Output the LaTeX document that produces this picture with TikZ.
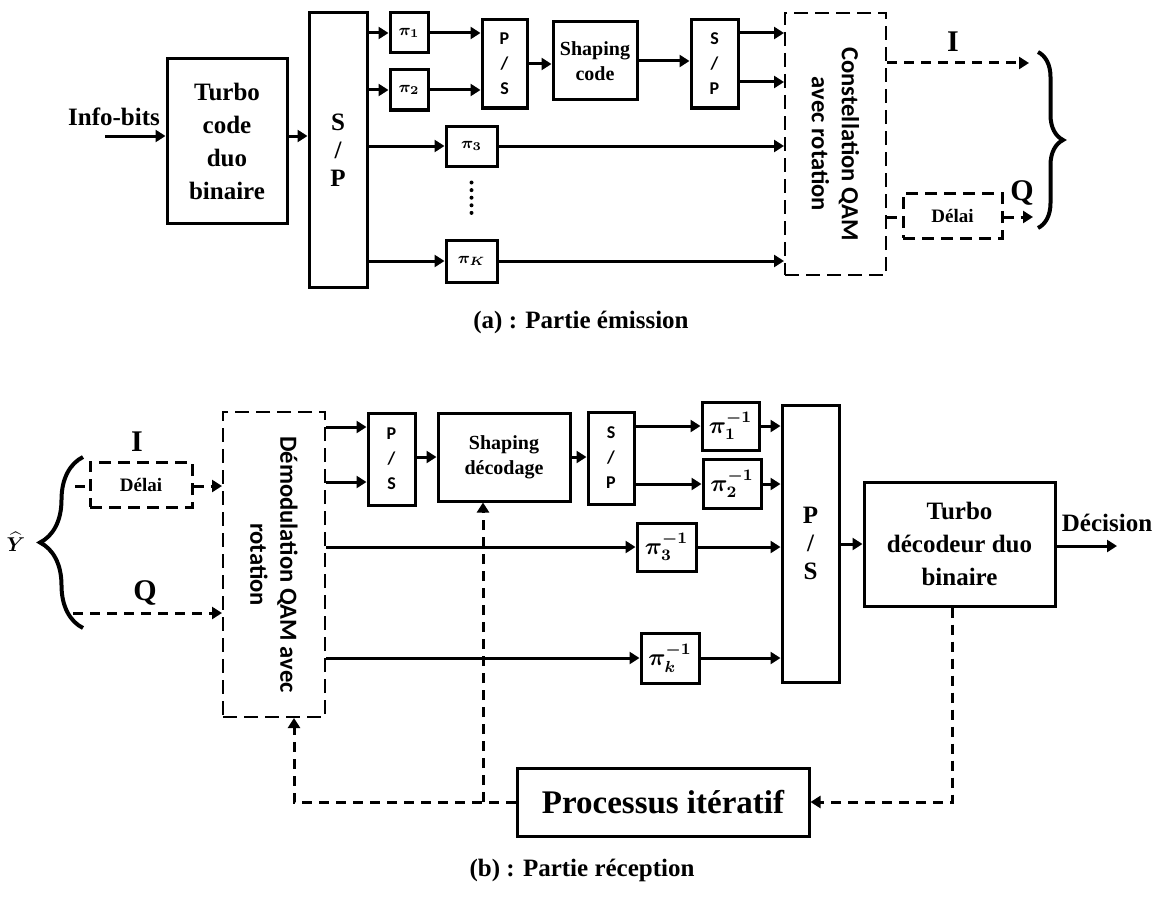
\documentclass[tikz,border=0pt]{standalone}
\usepackage{fontspec}
\setmainfont{Liberation Serif}
\setsansfont{Carlito}
\usepackage{amsmath}
\usetikzlibrary{arrows.meta,decorations.pathreplacing,calc}

\tikzset{
  blk/.style={draw,line width=1.5pt,inner sep=0pt,align=center},
  dblk/.style={draw,line width=1pt,dash pattern=on 7pt off 3.5pt,inner sep=0pt},
  dlbox/.style={draw,line width=1.5pt,dash pattern=on 6pt off 3.5pt,inner sep=0pt,
    font=\fontsize{9.5}{11}\selectfont\bfseries},
  lbl/.style={font=\fontsize{12.5}{16.5}\selectfont\bfseries,align=center},
  bigps/.style={font=\fontsize{12.5}{14}\selectfont\bfseries},
  small/.style={font=\sffamily\fontsize{9}{12.5}\selectfont\bfseries},
  shp/.style={font=\fontsize{10}{12.5}\selectfont\bfseries},
  iq/.style={font=\fontsize{15}{15}\selectfont\bfseries},
  vtxt/.style={font=\sffamily\fontsize{12.3}{15}\selectfont\bfseries,align=center,rotate=-90},
  piA/.style={blk,font=\fontsize{8}{10}\selectfont\boldmath},
  piB/.style={blk,font=\fontsize{12}{14}\selectfont\boldmath},
  conn/.style={line width=1.5pt,-{Triangle[length=5pt,width=6pt]}},
  dconn/.style={conn,dash pattern=on 5pt off 3.5pt},
}

\begin{document}
\begin{tikzpicture}[x=0.5pt,y=-0.5pt]
\useasboundingbox (0,0) rectangle (1160,899);

% (a) emission
\node[lbl] (info) at (114,117) {Info-bits};
\coordinate (inA) at (105,136);
\node[blk,lbl,minimum width=60pt,minimum height=82pt] (turbo) at (227,141) {Turbo\\code\\duo\\binaire};
\node[blk,bigps,minimum width=29pt,minimum height=137.5pt] (sp1) at (338,150) {S\\/\\P};
\node[piA,minimum width=19pt,minimum height=20pt] (pi1) at (409,33) {$\pi_1$};
\node[piA,minimum width=19pt,minimum height=20pt] (pi2) at (409,90) {$\pi_2$};
\node[piA,minimum width=25.5pt,minimum height=20pt] (pi3) at (471.5,146) {$\pi_3$};
\node[piA,minimum width=25.5pt,minimum height=21pt] (piK) at (471.5,261) {$\pi_K$};
\node[blk,small,minimum width=22.5pt,minimum height=44pt] (ps1) at (504.5,64) {P\\/\\S};
\node[blk,shp,minimum width=42pt,minimum height=39pt] (shA) at (595,61) {Shaping\\code};
\node[blk,small,minimum width=23.5pt,minimum height=44pt] (sp2) at (714.5,64) {S\\/\\P};
\node[dblk,minimum width=50.5pt,minimum height=131pt] (cst) at (835.5,144) {};
\node[vtxt] (cstT) at (cst) {Constellation QAM\\avec rotation};
\node[dlbox,minimum width=49.5pt,minimum height=22.5pt] (dlA) at (952.5,215.5) {Délai};
\node[iq] (Ia) at (953,42) {I};
\node[iq] (Qa) at (1022,193) {Q};
\coordinate (oI) at (1029,63);
\coordinate (oQ) at (1033,217);
\coordinate (bA1) at (1038,52);
\coordinate (bA2) at (1038,228);
\coordinate (c2) at ($(sp2.east)+(0,18)$);
\node[lbl] (capA) at (581,322) {(a) : Partie émission};

\draw[conn] (inA) -- (inA -| turbo.west);
\draw[conn] (turbo.east |- inA) -- (sp1.west |- inA);
\draw[conn] (sp1.east |- pi1) -- (pi1);
\draw[conn] (sp1.east |- pi2) -- (pi2);
\draw[conn] (sp1.east |- pi3) -- (pi3);
\draw[conn] (sp1.east |- piK) -- (piK);
\draw[conn] (pi1) -- (pi1 -| ps1.west);
\draw[conn] (pi2) -- (pi2 -| ps1.west);
\draw[conn] (ps1.east) -- (ps1.east -| shA.west);
\draw[conn] (shA.east) -- (shA.east -| sp2.west);
\draw[conn] (sp2.east |- pi1) -- (cst.west |- pi1);
\draw[conn] (c2) -- (c2 -| cst.west);
\draw[conn] (pi3) -- (pi3 -| cst.west);
\draw[conn] (piK) -- (piK -| cst.west);
\draw[line width=2pt,dash pattern=on 0pt off 3.8pt,line cap=round,shorten <=7.5pt,shorten >=11pt] (pi3.south) -- (piK.north);
\draw[dconn] (cst.east |- oI) -- (oI);
\draw[line width=1.5pt,dash pattern=on 5pt off 3.5pt] (cst.east |- oQ) -- (dlA.west |- oQ);
\draw[dconn] (dlA.east |- oQ) -- (oQ);
\draw[line width=2pt,decorate,decoration={brace,amplitude=12.5pt}] (bA1) -- (bA2);

% (b) reception
\node[font=\fontsize{10}{12}\selectfont\boldmath,inner sep=1pt] (yhat) at (16,542) {$\widehat{Y}$};
\coordinate (bB1) at (83,628);
\coordinate (bB2) at (83,457);
\node[iq] (Ib) at (137,442) {I};
\node[iq] (Qb) at (145,593) {Q};
\node[dlbox,minimum width=51pt,minimum height=22.5pt] (dlB) at (141,484.5) {Délai};
\coordinate (stI) at (75,486);
\coordinate (stQ) at (73,613);
\node[dblk,minimum width=51pt,minimum height=152.5pt] (dem) at (274,564.5) {};
\node[vtxt] (demT) at (dem) {Démodulation QAM avec\\rotation};
\node[blk,small,minimum width=23.5pt,minimum height=46pt] (ps2) at (391.5,459) {P\\/\\S};
\node[blk,shp,minimum width=66pt,minimum height=44pt] (shB) at (504,457) {Shaping\\décodage};
\node[blk,small,minimum width=23pt,minimum height=46pt] (sp3) at (611,458) {S\\/\\P};
\node[piB,minimum width=28.5pt,minimum height=24pt] (p1i) at (730.5,426) {$\pi_1^{-1}$};
\node[piB,minimum width=29pt,minimum height=24.5pt] (p2i) at (732,484) {$\pi_2^{-1}$};
\node[piB,minimum width=29.5pt,minimum height=24pt] (p3i) at (666.5,547) {$\pi_3^{-1}$};
\node[piB,minimum width=29pt,minimum height=25pt] (pki) at (670,658) {$\pi_k^{-1}$};
\node[blk,bigps,minimum width=28.5pt,minimum height=138.5pt] (ps3) at (810.5,543.5) {P\\/\\S};
\node[blk,lbl,minimum width=95.5pt,minimum height=62pt] (tdec) at (959.5,544) {Turbo\\décodeur duo\\binaire};
\node[lbl] (dec) at (1107,523) {Décision};
\coordinate (oDec) at (1117,546);
\node[blk,font=\fontsize{16.5}{18}\selectfont\bfseries,minimum width=146pt,minimum height=34pt] (proc) at (663,802) {Processus itératif};
\node[lbl] (capB) at (582,870) {(b) : Partie réception};
\coordinate (d1) at ($(ps2.west)+(0,-32)$);
\coordinate (d2) at ($(ps2.west)+(0,23)$);
\coordinate (fb1) at ($(tdec.south)+(-7,0)$);
\coordinate (fb2) at ($(dem.south)+(20,0)$);
\coordinate (fb3) at ($(shB.south)+(-21,0)$);

\draw[line width=2pt,decorate,decoration={brace,amplitude=21.5pt}] (bB1) -- (bB2);
\draw[line width=1.5pt,dash pattern=on 5pt off 3.5pt] (stI) -- (stI -| dlB.west);
\draw[dconn] (dlB.east |- stI) -- (stI -| dem.west);
\draw[dconn] (stQ) -- (stQ -| dem.west);
\draw[conn] (dem.east |- d1) -- (d1);
\draw[conn] (dem.east |- d2) -- (d2);
\draw[conn] (ps2.east |- shB) -- (shB);
\draw[conn] (shB) -- (shB -| sp3.west);
\draw[conn] (sp3.east |- p1i) -- (p1i);
\draw[conn] (sp3.east |- p2i) -- (p2i);
\draw[conn] (p1i) -- (p1i -| ps3.west);
\draw[conn] (p2i) -- (p2i -| ps3.west);
\draw[conn] (dem.east |- p3i) -- (p3i);
\draw[conn] (p3i) -- (p3i -| ps3.west);
\draw[conn] (dem.east |- pki) -- (pki);
\draw[conn] (pki) -- (pki -| ps3.west);
\draw[conn] (ps3.east |- tdec) -- (tdec);
\draw[conn] (tdec.east |- oDec) -- (oDec);
\draw[dconn] (fb1) |- (proc.east);
\draw[dconn] (proc.west) -| (fb2);
\draw[dconn] (fb3 |- proc) -- (fb3);
\end{tikzpicture}
\end{document}
